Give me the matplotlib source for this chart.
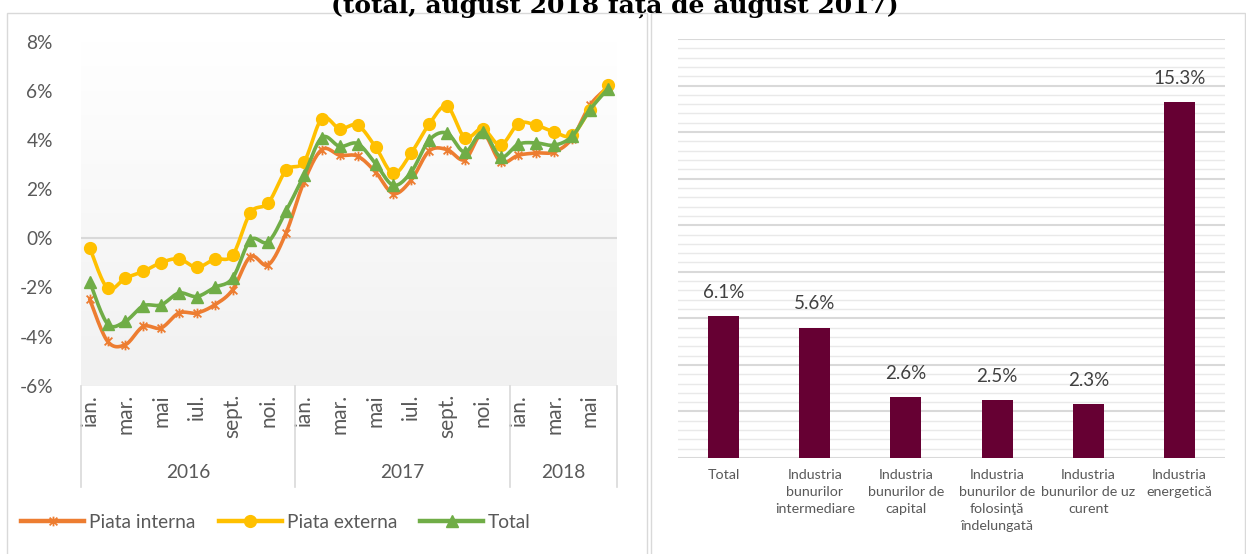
import numpy as np
import matplotlib
matplotlib.use("Agg")
import matplotlib.pyplot as plt
from matplotlib.path import Path
from matplotlib.lines import Line2D
from matplotlib.patches import Rectangle
import matplotlib.transforms as mtransforms

# ---------------- data ----------------
month_labels = ["ian.", "", "mar.", "", "mai", "", "iul.", "", "sept.", "", "noi.", "",
                "ian.", "", "mar.", "", "mai", "", "iul.", "", "sept.", "", "noi.", "",
                "ian.", "", "mar.", "", "mai", ""]
years = ["2016", "2017", "2018"]
year_counts = [12, 12, 6]

piata_interna = [-2.48, -4.19, -4.33, -3.59, -3.65, -3.04, -3.04, -2.71, -2.10, -0.75,
                 -1.08, 0.23, 2.30, 3.61, 3.38, 3.34, 2.70, 1.82, 2.37, 3.55,
                 3.61, 3.20, 4.26, 3.11, 3.38, 3.47, 3.51, 4.06, 5.41, 6.15]
piata_externa = [-0.38, -2.03, -1.62, -1.35, -0.99, -0.84, -1.18, -0.85, -0.69, 1.04,
                 1.44, 2.77, 3.11, 4.87, 4.46, 4.60, 3.72, 2.64, 3.47, 4.64,
                 5.37, 4.10, 4.46, 3.79, 4.67, 4.60, 4.32, 4.19, 5.23, 6.22]
total_line = [-1.76, -3.48, -3.38, -2.75, -2.71, -2.23, -2.37, -2.00, -1.62, -0.07,
              -0.14, 1.12, 2.57, 4.10, 3.74, 3.85, 3.04, 2.16, 2.70, 3.99,
              4.28, 3.51, 4.32, 3.31, 3.83, 3.88, 3.79, 4.15, 5.23, 6.08]

bar_categories = ["Total", "Industria\nbunurilor\nintermediare", "Industria\nbunurilor de\ncapital",
                  "Industria\nbunurilor de\nfolosinţă\nîndelungată", "Industria\nbunurilor de uz\ncurent",
                  "Industria\nenergetică"]
bar_values = [6.1, 5.6, 2.6, 2.5, 2.3, 15.3]

title_text = "(total, august 2018 față de august 2017)"

# ---------------- style ----------------
FONT = "Lato"
plt.rcParams["font.family"] = [FONT, "DejaVu Sans"]
GRAY_TXT = "#595959"
C_ORANGE = "#ED7D31"
C_YELLOW = "#FFC000"
C_GREEN = "#70AD47"
C_BAR = "#660033"
FS = 13.8

W, H = 1246, 554
fig = plt.figure(figsize=(W / 100, H / 100), dpi=100)

def fx(px):
    return px / W

def fy(py):
    return 1 - py / H

# panel frames
fig.patches.append(Rectangle((fx(7), fy(560)), fx(647) - fx(7), fy(13) - fy(560),
                             transform=fig.transFigure, fill=False, ec="#D9D9D9", lw=1.0))
fig.patches.append(Rectangle((fx(651), fy(560)), fx(1245) - fx(651), fy(13) - fy(560),
                             transform=fig.transFigure, fill=False, ec="#D9D9D9", lw=1.0))

# title (partially cut at top, as in the source)
fig.text(fx(615), fy(13), title_text, ha="center", va="baseline",
         fontsize=18, fontweight="bold", family=["DejaVu Serif"], color="black")

# ---------------- left chart ----------------
ax = fig.add_axes([fx(80.7), fy(385.7), fx(616.7) - fx(80.7), fy(41.7) - fy(385.7)])
n = len(piata_interna)
x = np.arange(n)
ax.set_xlim(-0.5, n - 0.5)
ax.set_ylim(-6, 8)

# gradient background
grad = np.linspace(1.0, 0.945, 256).reshape(-1, 1)
grad_img = np.dstack([grad, grad, grad])
ax.imshow(grad_img, extent=[-0.5, n - 0.5, -6, 8], aspect="auto", zorder=0,
          interpolation="bilinear")

for s in ax.spines.values():
    s.set_visible(False)
ax.axhline(0, color="#D9D9D9", lw=1.5, zorder=1)

def smooth(xs, ys, steps=16):
    P = np.column_stack([xs, ys]).astype(float)
    out = [P[0]]
    m = len(P)
    for i in range(m - 1):
        p0 = P[i - 1] if i > 0 else P[i]
        p1 = P[i]
        p2 = P[i + 1]
        p3 = P[i + 2] if i + 2 < m else P[i + 1]
        c1 = p1 + (p2 - p0) / 6.0
        c2 = p2 - (p3 - p1) / 6.0
        t = np.linspace(0, 1, steps)[1:, None]
        seg = ((1 - t) ** 3) * p1 + 3 * ((1 - t) ** 2) * t * c1 + 3 * (1 - t) * t ** 2 * c2 + t ** 3 * p2
        out.extend(seg)
    out = np.array(out)
    return out[:, 0], out[:, 1]

star = Path([(-1, -1), (1, 1), (-1, 1), (1, -1), (0, -1.25), (0, 1.25)],
            [Path.MOVETO, Path.LINETO, Path.MOVETO, Path.LINETO, Path.MOVETO, Path.LINETO])

series = [
    (piata_interna, C_ORANGE, star, 7, "Piata interna"),
    (piata_externa, C_YELLOW, "o", 8.5, "Piata externa"),
    (total_line, C_GREEN, "^", 8.5, "Total"),
]
handles = []
for k, (vals, col, mk, ms, lab) in enumerate(series):
    sx, sy = smooth(x, vals)
    ax.plot(sx, sy, color=col, lw=2.6, solid_capstyle="round", zorder=3 + k)
    if mk is star:
        ax.plot(x, vals, ls="none", marker=mk, ms=ms, mec=col, mfc="none", mew=1.3, zorder=3 + k)
        handles.append(Line2D([], [], color=col, lw=3.2, marker=mk, ms=ms, mec=col, mfc="none", mew=1.3))
    else:
        ax.plot(x, vals, ls="none", marker=mk, ms=ms, mec=col, mfc=col, zorder=3 + k)
        handles.append(Line2D([], [], color=col, lw=3.2, marker=mk, ms=ms, mec=col, mfc=col))

yt = np.arange(-6, 9, 2)
ax.set_yticks(yt)
ax.set_yticklabels([f"{v}%" for v in yt], fontsize=FS, color=GRAY_TXT)
ax.tick_params(axis="y", length=0, pad=20)

ax.set_xticks(x)
ax.set_xticklabels(month_labels, rotation=90, fontsize=15, color=GRAY_TXT)
ax.tick_params(axis="x", length=0, pad=6)

# multi-level year axis
axis_h = 385.7 - 41.7
y_sep_bottom = -(487 - 385.7) / axis_h
y_year = -(472 - 385.7) / axis_h
trans = mtransforms.blended_transform_factory(ax.transData, ax.transAxes)
bounds = np.concatenate([[0], np.cumsum(year_counts)]) - 0.5
for b in bounds:
    ax.plot([b, b], [0, y_sep_bottom], transform=trans, color="#D9D9D9", lw=1.2, clip_on=False)
for i, yr in enumerate(years):
    ax.text((bounds[i] + bounds[i + 1]) / 2, y_year, yr, transform=trans, ha="center", va="center",
            fontsize=FS, color=GRAY_TXT)

fig.legend(handles, [s[4] for s in series], loc="center", bbox_to_anchor=(fx(276), fy(522)),
           ncol=3, frameon=False, fontsize=FS, handlelength=3.3, handletextpad=0.25,
           columnspacing=1.2, labelcolor=GRAY_TXT)

# ---------------- right chart ----------------
bx = fig.add_axes([fx(678), fy(458), fx(1225) - fx(678), fy(39) - fy(458)])
pos = np.arange(len(bar_values))
bx.set_xlim(-0.5, len(bar_values) - 0.5)
bx.set_ylim(0, 18)
bx.set_yticks(np.arange(0, 18.01, 2))
bx.set_yticks(np.arange(0, 18.01, 0.4), minor=True)
bx.grid(axis="y", which="minor", color="#E9E9E9", lw=1.0, zorder=0)
bx.grid(axis="y", which="major", color="#D9D9D9", lw=1.5, zorder=0)
bx.tick_params(axis="y", which="both", length=0, labelleft=False)
for s in bx.spines.values():
    s.set_visible(False)
bx.bar(pos, bar_values, width=0.34, color=C_BAR, zorder=3)
for p, v in zip(pos, bar_values):
    bx.annotate(f"{v:.1f}%", (p, v), xytext=(0, 11), textcoords="offset points",
                ha="center", va="bottom", fontsize=13.5, color="#404040")
bx.set_xticks(pos)
bx.set_xticklabels(bar_categories, fontsize=10.3, color=GRAY_TXT, linespacing=1.5, va="top")
bx.tick_params(axis="x", length=0, pad=8)

fig.savefig("out.png", dpi=100)
